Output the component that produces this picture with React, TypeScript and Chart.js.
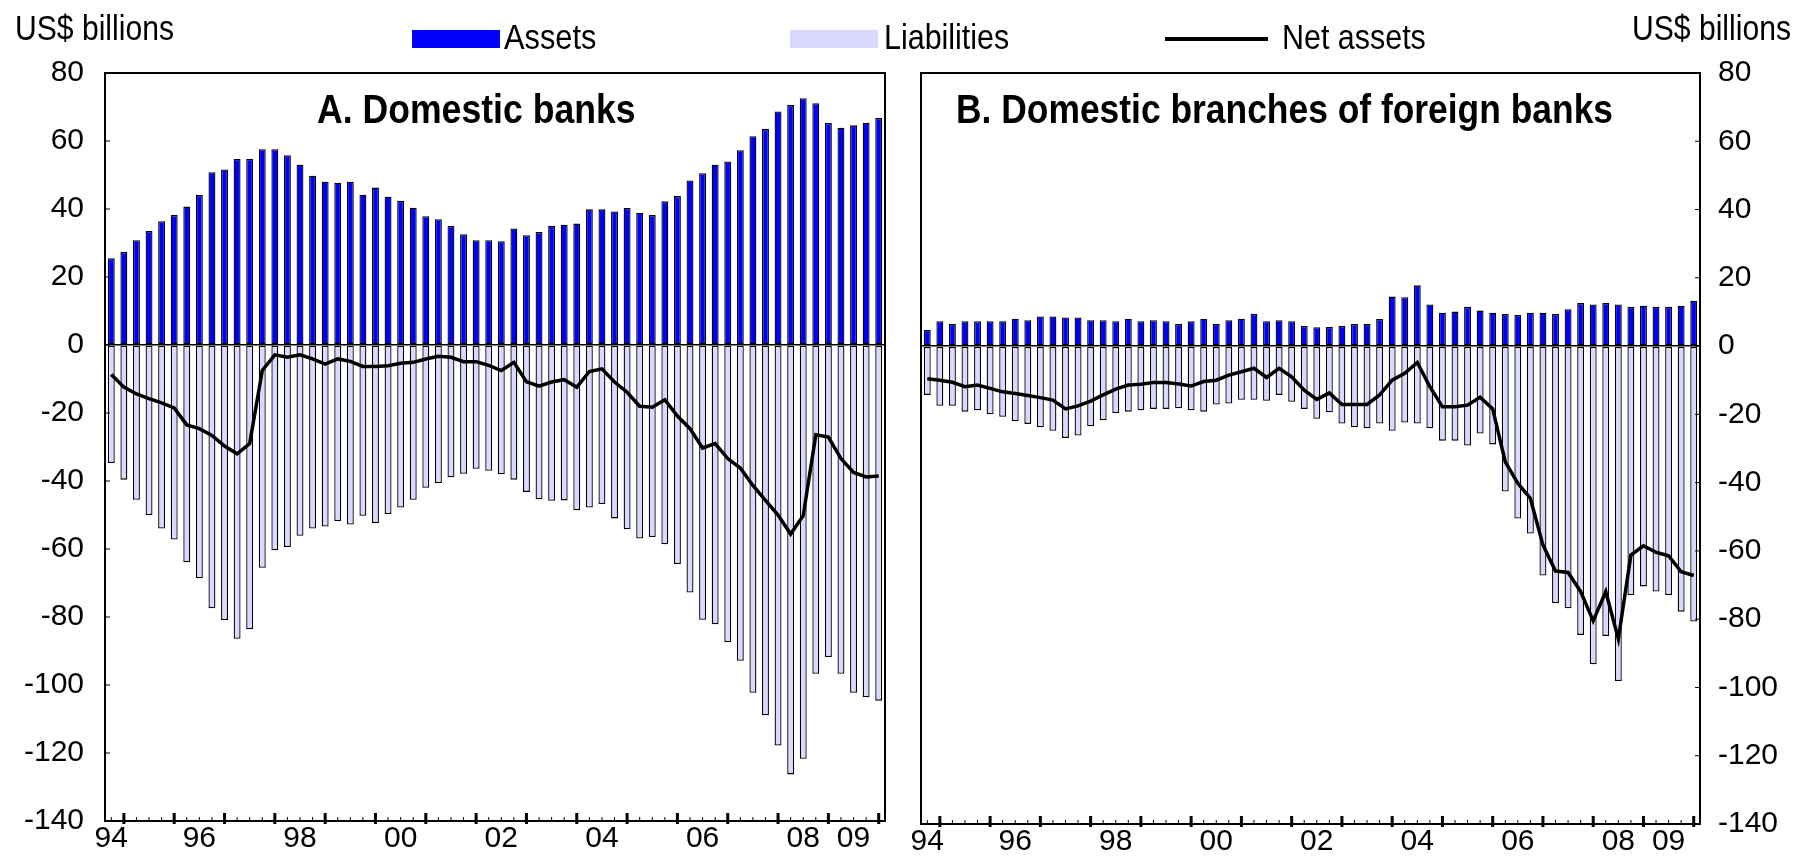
import React, { useEffect, useRef } from "react";
import { Chart, registerables } from "chart.js";

Chart.register(...registerables);

const FONT = "'Liberation Sans', Arial, sans-serif";

// Quarterly categories 1994Q4 .. 2010Q1
const quarters: string[] = [];
quarters.push("1994Q4");
for (let y = 1995; y <= 2009; y++) for (let q = 1; q <= 4; q++) quarters.push(`${y}Q${q}`);
quarters.push("2010Q1");

const yearLabels = ["94", "96", "98", "00", "02", "04", "06", "08", "09"];
const yearLabelIdx = [0, 7, 15, 23, 31, 39, 47, 55, 59];
const yTicks = [80, 60, 40, 20, 0, -20, -40, -60, -80, -100, -120, -140];

// Panel A: Domestic banks
const assetsA = [25.5, 27.4, 30.8, 33.5, 36.4, 38.2, 40.7, 44.1, 50.8, 51.6,
  54.7, 54.7, 57.6, 57.6, 55.8, 53.0, 49.8, 48.0, 47.7, 48.0,
  44.2, 46.3, 43.6, 42.4, 40.4, 37.9, 37.0, 35.0, 32.6, 30.8,
  30.8, 30.5, 34.3, 32.3, 33.2, 35.1, 35.4, 35.7, 39.9, 39.9,
  39.3, 40.3, 38.9, 38.2, 42.3, 43.8, 48.4, 50.5, 53.0, 54.0,
  57.3, 61.4, 63.5, 68.7, 70.6, 72.6, 71.1, 65.3, 63.9, 64.6, 65.4, 66.8];
const liabA = [-34.7, -39.6, -45.5, -50.0, -54.0, -57.2, -63.9, -68.6, -77.4, -80.9,
  -86.4, -83.6, -65.5, -60.4, -59.4, -56.1, -54.0, -53.4, -51.8, -52.8,
  -50.2, -52.4, -49.7, -47.8, -45.5, -42.0, -40.6, -38.9, -37.9, -36.4,
  -37.0, -38.0, -39.6, -43.2, -45.4, -45.8, -45.7, -48.6, -47.8, -46.8,
  -51.0, -54.2, -56.9, -56.5, -58.6, -64.4, -72.8, -80.8, -82.1, -87.4,
  -92.9, -102.3, -108.9, -117.8, -126.3, -121.7, -96.7, -91.8, -96.7, -102.3, -103.6, -104.6];
const netA = [-8.7, -12.4, -14.4, -15.8, -17.0, -18.5, -23.5, -24.6, -26.6, -29.7,
  -32.0, -29.0, -7.5, -2.9, -3.6, -2.9, -4.1, -5.6, -4.1, -4.8,
  -6.3, -6.3, -6.1, -5.4, -5.1, -4.1, -3.3, -3.6, -4.9, -4.9,
  -6.0, -7.5, -5.1, -10.8, -12.1, -10.9, -10.2, -12.4, -7.8, -7.0,
  -10.9, -13.9, -18.0, -18.3, -16.1, -20.9, -24.6, -30.3, -29.0, -33.4,
  -36.2, -41.3, -45.7, -50.0, -55.6, -50.2, -26.4, -27.1, -33.4, -37.5, -38.8, -38.5];

// Panel B: Domestic branches of foreign banks
const assetsB = [4.7, 7.3, 6.5, 7.3, 7.3, 7.3, 7.3, 8.0, 7.6, 8.7,
  8.7, 8.4, 8.4, 7.6, 7.6, 7.3, 8.0, 7.3, 7.6, 7.3,
  6.5, 7.3, 8.0, 6.5, 7.6, 8.0, 9.4, 7.3, 7.6, 7.3,
  5.9, 5.5, 5.6, 5.9, 6.5, 6.5, 7.9, 14.5, 14.3, 17.8,
  12.2, 9.8, 10.1, 11.5, 10.4, 9.8, 9.4, 9.1, 9.8, 9.8,
  9.4, 10.8, 12.6, 12.2, 12.6, 12.2, 11.5, 11.8, 11.5, 11.5, 11.8, 13.3];
const liabB = [-14.3, -17.5, -17.5, -19.2, -18.8, -20.0, -20.7, -22.0, -22.8, -23.8,
  -24.8, -26.9, -26.2, -23.5, -21.7, -19.6, -19.2, -18.8, -18.4, -18.4,
  -18.2, -18.8, -19.2, -17.1, -16.8, -15.7, -15.7, -16.0, -14.3, -16.3,
  -18.4, -21.3, -19.4, -22.7, -23.8, -24.1, -22.7, -24.8, -22.4, -22.7,
  -24.1, -27.7, -27.7, -29.1, -25.6, -28.8, -42.6, -50.5, -54.9, -67.2,
  -75.3, -76.8, -84.6, -93.2, -84.9, -98.1, -72.9, -70.4, -71.9, -72.9, -77.8, -80.7];
const netB = [-9.6, -10.0, -10.6, -11.9, -11.4, -12.4, -13.4, -13.9, -14.5, -15.1,
  -15.8, -18.4, -17.5, -16.1, -14.3, -12.6, -11.4, -11.2, -10.7, -10.7,
  -11.1, -11.7, -10.4, -10.0, -8.5, -7.5, -6.5, -9.2, -6.5, -9.0,
  -12.9, -15.6, -13.7, -17.1, -17.1, -17.1, -14.3, -10.0, -8.0, -4.8,
  -11.9, -17.8, -17.8, -17.3, -15.0, -18.4, -33.9, -40.2, -44.6, -58.3,
  -65.9, -66.3, -71.9, -80.5, -71.9, -85.8, -61.2, -58.5, -60.4, -61.4, -66.1, -67.2];

const ASSET_COLOR = "#0000ff";
const LIAB_COLOR = "#d9d9ff";

const framePlugin = {
  id: "frame",
  afterDraw(chart: any) {
    const { ctx, chartArea: a, scales } = chart;
    ctx.save();
    ctx.strokeStyle = "#000";
    // x tick marks (inward)
    const xs = scales.x;
    for (let i = 0; i < quarters.length; i++) {
      const x = xs.getPixelForValue(i);
      const major = quarters[i].endsWith("Q1");
      ctx.beginPath();
      ctx.lineWidth = major ? 3 : 1;
      ctx.moveTo(x, a.bottom + (major ? 3 : 0));
      ctx.lineTo(x, a.bottom - (major ? 8 : 4));
      ctx.stroke();
    }
    // y tick marks (inward)
    const ys = scales.y;
    const left = ys.position === "left";
    const sx = left ? a.left : a.right;
    ctx.lineWidth = 1;
    for (const v of yTicks) {
      const y = ys.getPixelForValue(v);
      ctx.beginPath();
      ctx.moveTo(sx, y);
      ctx.lineTo(sx + (left ? 5 : -5), y);
      ctx.stroke();
    }
    // frame
    ctx.lineWidth = 2;
    ctx.strokeRect(a.left, a.top, a.right - a.left, a.bottom - a.top);
    ctx.restore();
  },
};

type PanelProps = {
  assets: number[];
  liab: number[];
  net: number[];
  side: "left" | "right";
  x: number;
  width: number;
};

function Panel({ assets, liab, net, side, x, width }: PanelProps) {
  const ref = useRef<HTMLCanvasElement>(null);
  useEffect(() => {
    if (!ref.current) return;
    const chart = new Chart(ref.current, {
      type: "bar",
      data: {
        labels: quarters,
        datasets: [
          {
            type: "line",
            label: "Net assets",
            data: net,
            borderColor: "#000",
            borderWidth: 3.5,
            pointRadius: 0,
            tension: 0,
            fill: false,
            order: 0,
          } as any,
          {
            label: "Assets",
            data: assets,
            backgroundColor: ASSET_COLOR,
            borderColor: "#000",
            borderWidth: 1.3,
            borderSkipped: false,
            barPercentage: 0.55,
            categoryPercentage: 1,
            order: 1,
          },
          {
            label: "Liabilities",
            data: liab,
            backgroundColor: LIAB_COLOR,
            borderColor: "#000",
            borderWidth: 1.3,
            borderSkipped: false,
            barPercentage: 0.55,
            categoryPercentage: 1,
            order: 1,
          },
        ],
      },
      options: {
        animation: false,
        responsive: false,
        maintainAspectRatio: false,
        layout: {
          padding: side === "left"
            ? { top: 73, right: 15, left: 0, bottom: 0 }
            : { top: 73, right: 0, left: 21, bottom: 0 },
        },
        plugins: { legend: { display: false }, tooltip: { enabled: false } },
        scales: {
          x: {
            stacked: true,
            grid: { display: false, drawTicks: false },
            border: { display: false },
            ticks: {
              autoSkip: false,
              maxRotation: 0,
              minRotation: 0,
              padding: 0,
              color: "#000",
              font: { family: FONT, size: 30 },
              callback: (_v: any, i: number) => {
                const k = yearLabelIdx.indexOf(i);
                return k >= 0 ? yearLabels[k] : "";
              },
            },
            afterFit: (s: any) => { s.height = 34; },
          },
          y: {
            position: side,
            min: -140,
            max: 80,
            ticks: {
              stepSize: 20,
              padding: side === "left" ? 21 : 18,
              color: "#000",
              font: { family: FONT, size: 30 },
            },
            grid: {
              drawTicks: false,
              lineWidth: 1.5,
              color: (c: any) => (c.tick && c.tick.value === 0 ? "#000" : "rgba(0,0,0,0)"),
            },
            border: { display: false },
            afterFit: (s: any) => { s.width = side === "left" ? 105 : 95; },
          },
        },
      },
      plugins: [framePlugin],
    });
    return () => chart.destroy();
  }, []);
  return (
    <canvas
      ref={ref}
      width={width}
      height={860}
      style={{ position: "absolute", left: x, top: 0, width, height: 860 }}
    />
  );
}

const textBase: React.CSSProperties = {
  position: "absolute",
  fontFamily: FONT,
  fontSize: 35,
  lineHeight: "35px",
  color: "#000",
  whiteSpace: "nowrap",
  zIndex: 2,
  transformOrigin: "0 0",
};

const sx = (s: number): React.CSSProperties => ({ transform: `scaleX(${s})` });

export default function App() {
  return (
    <div style={{ position: "absolute", left: 0, top: 0, width: 1795, height: 860, background: "#fff", overflow: "hidden" }}>
      <Panel assets={assetsA} liab={liabA} net={netA} side="left" x={0} width={900} />
      <Panel assets={assetsB} liab={liabB} net={netB} side="right" x={900} width={895} />
      <div style={{ ...textBase, ...sx(0.86), left: 15, top: 10 }}>US$ billions</div>
      <div style={{ ...textBase, ...sx(0.86), left: 1632, top: 10 }}>US$ billions</div>
      <div style={{ position: "absolute", left: 412, top: 30, width: 88, height: 18, background: ASSET_COLOR, zIndex: 2 }} />
      <div style={{ ...textBase, ...sx(0.88), left: 504, top: 19 }}>Assets</div>
      <div style={{ position: "absolute", left: 790, top: 30, width: 88, height: 18, background: LIAB_COLOR, zIndex: 2 }} />
      <div style={{ ...textBase, ...sx(0.87), left: 884, top: 19 }}>Liabilities</div>
      <div style={{ position: "absolute", left: 1165, top: 37, width: 103, height: 4, background: "#000", zIndex: 2 }} />
      <div style={{ ...textBase, ...sx(0.87), left: 1282, top: 19 }}>Net assets</div>
      <div style={{ ...textBase, ...sx(0.89), left: 317, top: 89, fontSize: 40, lineHeight: "40px", fontWeight: "bold" }}>A. Domestic banks</div>
      <div style={{ ...textBase, ...sx(0.885), left: 956, top: 89, fontSize: 40, lineHeight: "40px", fontWeight: "bold" }}>B. Domestic branches of foreign banks</div>
    </div>
  );
}
